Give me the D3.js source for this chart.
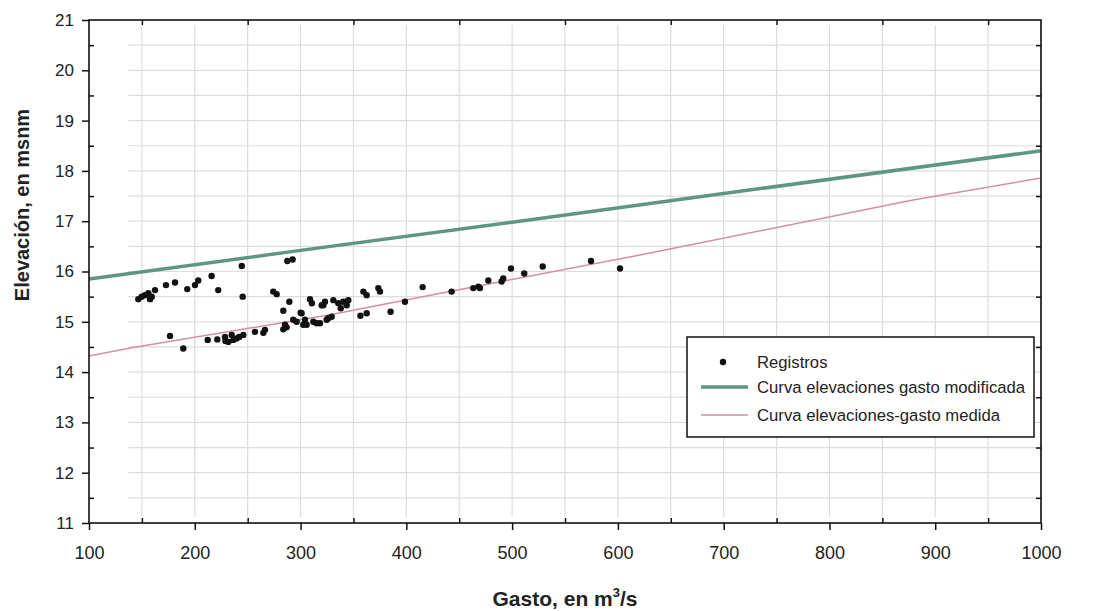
<!DOCTYPE html>
<html>
<head>
<meta charset="utf-8">
<script src="https://cdn.jsdelivr.net/npm/d3@7"></script>
<style>
  body { margin: 0; background: #fff; }
  svg { display: block; font-family: "Liberation Sans", Arial, sans-serif; }
</style>
</head>
<body>
<div id="root"></div>
<script>
// registros (gasto m3/s, elevación msnm)
const registrosGasto = [
  146.6, 149.8, 152.9, 156.1, 159.3, 157.7, 162.4, 172.8, 181.3, 192.9,
  200.2, 203.3, 215.9, 222.2, 244.4, 245.3, 274.2, 277.4, 287.5, 292.5,
  289.4, 283.7, 300.1, 308.9, 320.0, 323.1, 176.6, 189.1, 212.2, 221.3,
  228.6, 231.7, 234.9, 239.6, 245.9, 242.0, 256.9, 264.8, 266.4, 283.7,
  286.8, 296.3, 302.6, 304.2, 312.1, 318.4, 324.7, 310.7, 321.5, 331.0,
  335.7, 340.4, 345.1, 343.6, 359.4, 362.5, 373.5, 375.1, 415.4, 442.8,
  398.7, 385.1, 356.6, 362.5, 285.3, 293.1, 301.0, 305.7, 315.2, 326.2,
  329.4, 463.3, 468.1, 469.6, 477.5, 490.1, 491.6, 498.9, 511.5, 528.9,
  574.6, 602.0, 236.5, 229.0, 338.0
]
const registrosElev = [
  15.45, 15.50, 15.53, 15.57, 15.50, 15.45, 15.63, 15.73, 15.78, 15.65,
  15.73, 15.82, 15.91, 15.63, 16.11, 15.50, 15.60, 15.55, 16.21, 16.24,
  15.40, 15.22, 15.18, 15.45, 15.33, 15.40, 14.72, 14.47, 14.64, 14.65,
  14.70, 14.60, 14.74, 14.67, 14.74, 14.70, 14.80, 14.78, 14.84, 14.85,
  14.89, 15.00, 14.94, 15.04, 15.00, 14.97, 15.04, 15.37, 15.33, 15.43,
  15.37, 15.40, 15.43, 15.33, 15.60, 15.53, 15.67, 15.60, 15.69, 15.60,
  15.40, 15.20, 15.12, 15.17, 14.94, 15.04, 15.17, 14.94, 14.97, 15.07,
  15.10, 15.67, 15.70, 15.67, 15.82, 15.80, 15.86, 16.06, 15.96, 16.10,
  16.21, 16.06, 14.64, 14.62, 15.27
]

// curva elevaciones gasto modificada
const modGasto = [100, 300, 500, 700, 1000]
const modElev = [15.85, 16.42, 16.98, 17.55, 18.40]

// curva elevaciones-gasto medida
const medGasto = [100, 139, 328, 413, 621, 879, 1000]
const medElev = [14.32, 14.48, 15.14, 15.49, 16.33, 17.42, 17.86]

const xTicks = [100, 200, 300, 400, 500, 600, 700, 800, 900, 1000]
const xMinorTicks = [150, 250, 350, 450, 550, 650, 750, 850, 950]
const yTicks = [11, 12, 13, 14, 15, 16, 17, 18, 19, 20, 21]
const yMinorTicks = [11.5, 12.5, 13.5, 14.5, 15.5, 16.5, 17.5, 18.5, 19.5, 20.5]
const xGrid = d3.range(150, 1001, 50)
const yGrid = d3.range(11.5, 21, 0.5)

const legendLabels = ["Registros", "Curva elevaciones gasto modificada", "Curva elevaciones-gasto medida"]

const width = 1094
const height = 611
const margin = { top: 20, right: 53, bottom: 88, left: 89 }
const inner = {
  width: width - margin.left - margin.right,
  height: height - margin.top - margin.bottom
}

const svg = d3.select("#root").append("svg")
  .attr("width", width)
  .attr("height", height)

const g = svg.append("g")
  .attr("transform", `translate(${margin.left},${margin.top})`)

const xScale = d3.scaleLinear().domain([100, 1000]).range([0, inner.width])
const yScale = d3.scaleLinear().domain([11, 21]).range([inner.height, 0])

// grid (scanned paper starts a bit right of the axis)
const gridLeft = xScale(137)
const gridTop = yScale(20.9)
const gridBottom = yScale(11.12)
const grid = g.append("g").attr("stroke", "#dcdcdc").attr("stroke-width", 1.2)
grid.selectAll("line.v").data(xGrid).join("line")
  .attr("class", "v")
  .attr("x1", d => xScale(d)).attr("x2", d => xScale(d))
  .attr("y1", gridTop).attr("y2", gridBottom)
grid.selectAll("line.h").data(yGrid).join("line")
  .attr("class", "h")
  .attr("x1", gridLeft).attr("x2", inner.width)
  .attr("y1", d => yScale(d)).attr("y2", d => yScale(d))

// curves
const line = d3.line().x(d => xScale(d[0])).y(d => yScale(d[1]))

g.append("path")
  .datum(medGasto.map((d, i) => [d, medElev[i]]))
  .attr("d", line)
  .attr("fill", "none")
  .attr("stroke", "#d68fa0")
  .attr("stroke-width", 1.5)

g.append("path")
  .datum(modGasto.map((d, i) => [d, modElev[i]]))
  .attr("d", line)
  .attr("fill", "none")
  .attr("stroke", "#5e9683")
  .attr("stroke-width", 3.5)

// points
g.selectAll("circle.reg")
  .data(registrosGasto.map((d, i) => [d, registrosElev[i]]))
  .join("circle")
  .attr("class", "reg")
  .attr("cx", d => xScale(d[0]))
  .attr("cy", d => yScale(d[1]))
  .attr("r", 3.2)
  .attr("fill", "#111")

// axes
const styleAxis = size => sel => {
  sel.select(".domain").remove()
  sel.selectAll("line").attr("stroke", "#111").attr("stroke-width", 1.5)
  sel.selectAll("text").attr("fill", "#222").style("font-size", `${size}px`)
}

g.append("g")
  .attr("transform", `translate(0,${inner.height})`)
  .call(d3.axisBottom(xScale).tickValues(xTicks).tickSize(7).tickPadding(16).tickFormat(d3.format("d")))
  .call(styleAxis(18))

g.append("g")
  .attr("transform", `translate(0,${inner.height})`)
  .call(d3.axisBottom(xScale).tickValues(xMinorTicks).tickSize(-5).tickFormat(""))
  .call(styleAxis(18))

g.append("g")
  .call(d3.axisTop(xScale).tickValues(xMinorTicks).tickSize(-5).tickFormat(""))
  .call(styleAxis(18))

g.append("g")
  .call(d3.axisLeft(yScale).tickValues(yTicks).tickSize(7).tickPadding(8).tickFormat(d3.format("d")))
  .call(styleAxis(17))

g.append("g")
  .call(d3.axisLeft(yScale).tickValues(yMinorTicks).tickSize(-5).tickFormat(""))
  .call(styleAxis(17))

g.append("g")
  .attr("transform", `translate(${inner.width},0)`)
  .call(d3.axisRight(yScale).tickValues(yMinorTicks).tickSize(-5).tickFormat(""))
  .call(styleAxis(17))

// frame
g.append("rect")
  .attr("width", inner.width)
  .attr("height", inner.height)
  .attr("fill", "none")
  .attr("stroke", "#111")
  .attr("stroke-width", 1.6)

// axis titles
const xTitle = svg.append("text")
  .attr("x", 565)
  .attr("y", 606)
  .attr("text-anchor", "middle")
  .attr("font-size", 21)
  .attr("font-weight", "bold")
  .attr("fill", "#222")
xTitle.append("tspan").text("Gasto, en m")
xTitle.append("tspan").attr("font-size", 13).attr("dy", -9).text("3")
xTitle.append("tspan").attr("dy", 9).text("/s")

svg.append("text")
  .attr("transform", `translate(29,205) rotate(-90)`)
  .attr("text-anchor", "middle")
  .attr("font-size", 20)
  .attr("font-weight", "bold")
  .attr("fill", "#222")
  .text("Elevación, en msnm")

// legend
const legend = svg.append("g").attr("transform", "translate(687,337)")
legend.append("rect")
  .attr("width", 347)
  .attr("height", 100)
  .attr("fill", "#fff")
  .attr("stroke", "#111")
  .attr("stroke-width", 1.5)

const rowY = [25, 50, 78]
legend.append("circle").attr("cx", 36).attr("cy", rowY[0]).attr("r", 3.2).attr("fill", "#111")
legend.append("line")
  .attr("x1", 14).attr("x2", 61).attr("y1", rowY[1]).attr("y2", rowY[1])
  .attr("stroke", "#5e9683").attr("stroke-width", 3.5)
legend.append("line")
  .attr("x1", 14).attr("x2", 61).attr("y1", rowY[2]).attr("y2", rowY[2])
  .attr("stroke", "#d68fa0").attr("stroke-width", 1.5)

legend.selectAll("text.lbl")
  .data(legendLabels)
  .join("text")
  .attr("class", "lbl")
  .attr("x", 70)
  .attr("y", (d, i) => rowY[i] + 6)
  .attr("font-size", 16.7)
  .attr("fill", "#222")
  .text(d => d)
</script>
</body>
</html>
